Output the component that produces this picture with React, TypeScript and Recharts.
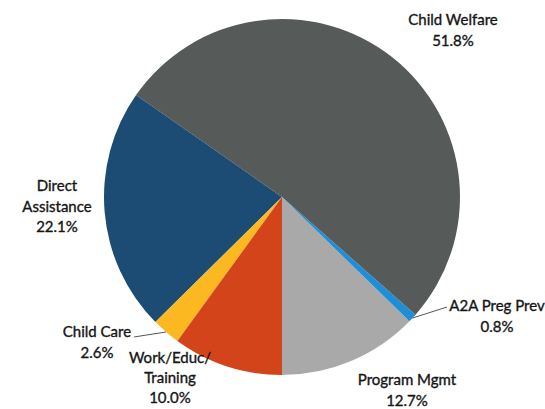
import React from "react";
import { PieChart, Pie, Cell } from "recharts";

// Slice order follows the reference, starting at 6 o'clock and going counter-clockwise
const categories = [
  "Program Mgmt",
  "A2A Preg Prev",
  "Child Welfare",
  "Direct Assistance",
  "Child Care",
  "Work/Educ/Training",
];
const shares = [12.7, 0.8, 51.8, 22.1, 2.6, 10.0];
const colors = ["#a9a9a9", "#1e8fd6", "#565b59", "#1c4b73", "#fbb820", "#d3441a"];

// how each label is wrapped
const labelLines = [
  ["Program Mgmt"],
  ["A2A Preg Prev"],
  ["Child Welfare"],
  ["Direct", "Assistance"],
  ["Child Care"],
  ["Work/Educ/", "Training"],
];

// label block centre, relative to the pie centre, plus optional leader line end
const labelPlace = [
  { dx: 125, dy: 182 },
  { dx: 215, dy: 108, leader: { dx: 165, dy: 110 } },
  { dx: 171, dy: -178 },
  { dx: -225, dy: -12 },
  { dx: -185, dy: 134, leader: { dx: -148, dy: 140 } },
  { dx: -112, dy: 160, lh: 20 },
];

const data = categories.map((name, i) => ({ name, value: shares[i] }));

const RAD = Math.PI / 180;
const LINE_H = 20.5;

function renderLabel(props: any) {
  const { cx, cy, midAngle, outerRadius, index, value } = props;
  const place = labelPlace[index];
  const lh = place.lh ?? LINE_H;
  const lines = [...labelLines[index], `${value.toFixed(1)}%`];
  const x = cx + place.dx;
  const y0 = cy + place.dy;
  let leader = null;
  if (place.leader) {
    const ex = cx + outerRadius * Math.cos(-midAngle * RAD);
    const ey = cy + outerRadius * Math.sin(-midAngle * RAD);
    leader = (
      <line
        x1={ex}
        y1={ey}
        x2={cx + place.leader.dx}
        y2={cy + place.leader.dy}
        stroke="#555"
        strokeWidth={1}
      />
    );
  }
  return (
    <g key={`lbl-${index}`}>
      {leader}
      {lines.map((t, k) => (
        <text
          key={k}
          x={x}
          y={y0 + k * lh}
          textAnchor="middle"
          dominantBaseline="central"
          fontFamily="Lato, 'Open Sans', sans-serif"
          fontSize={15}
          fill="#151515"
          stroke="#151515"
          strokeWidth={0.35}
        >
          {t}
        </text>
      ))}
    </g>
  );
}

export default function App() {
  return (
    <div style={{ position: "fixed", left: 0, top: 0, width: 545, height: 409, background: "#fff" }}>
      <PieChart width={545} height={409}>
        <Pie
          data={data}
          dataKey="value"
          nameKey="name"
          cx={277}
          cy={192}
          outerRadius={178}
          startAngle={-90}
          endAngle={270}
          stroke="none"
          label={renderLabel}
          labelLine={false}
          isAnimationActive={false}
        >
          {data.map((d, i) => (
            <Cell key={d.name} fill={colors[i]} />
          ))}
        </Pie>
      </PieChart>
    </div>
  );
}
